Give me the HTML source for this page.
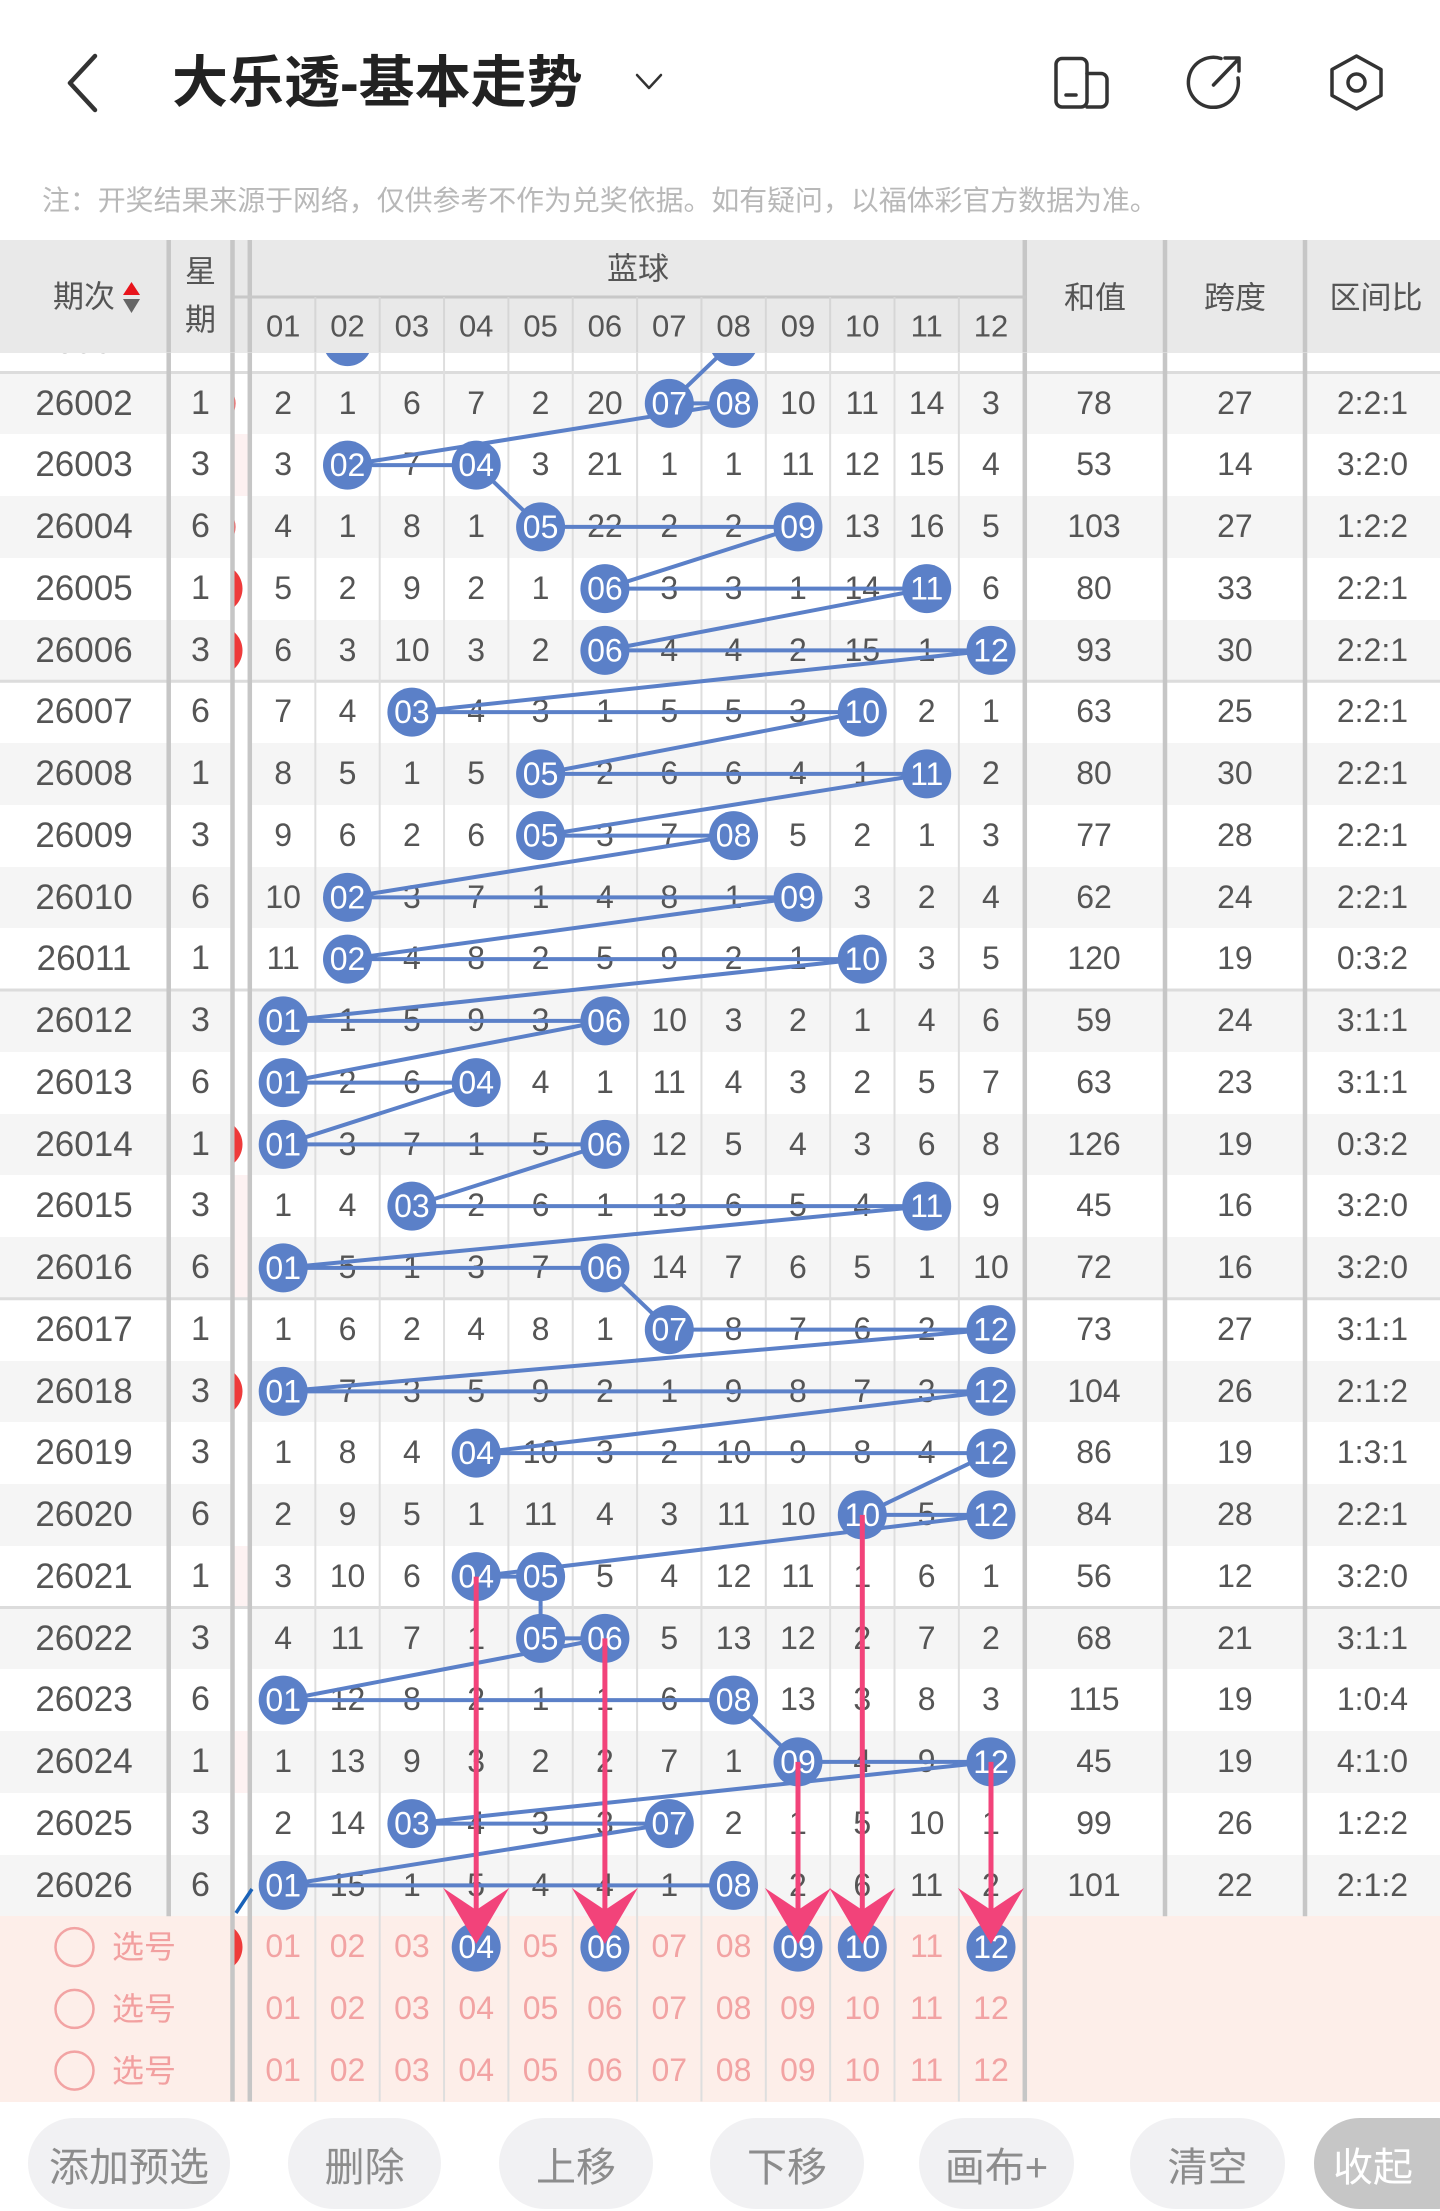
<!DOCTYPE html>
<html><head><meta charset="utf-8">
<style>
*{box-sizing:border-box}
body{margin:0;width:1440px;height:2211px;position:relative;overflow:hidden;background:#fff;font-family:"Liberation Sans","Noto Sans CJK SC",sans-serif;}
.r{position:absolute;left:0;width:1440px;height:61.75px;display:flex;color:#555;font-size:32px;line-height:61.75px;z-index:1;background:#fff}
.r.g{background:#f5f5f5}
.r.p{background:#fdeee9;color:#f2a3a3}
.r i{font-style:normal;display:block;text-align:center;flex:none;width:64.35px;white-space:nowrap}
.r i:nth-child(1){width:168px;font-size:35px}
.r i:nth-child(2){width:65px;font-size:34px}
.r i:nth-child(3){width:18px;background:#fff}
.r.p i:nth-child(3){background:transparent}
.r i:nth-child(16){width:141.8px}
.r i:nth-child(17){width:140px}
.r i:nth-child(18){width:135px}
.t{position:absolute;transform:translate(-50%,-50%);white-space:nowrap;line-height:1;z-index:4;color:#555;font-size:31px}
.ov{position:absolute;left:0;top:0}
.pill{position:absolute;top:2118px;height:91px;border-radius:45.5px;background:#f1f1f3;color:#8c8c8c;font-size:40px;display:flex;align-items:center;justify-content:center;white-space:nowrap}
.xh{position:absolute;left:112px;transform:translateY(-50%);font-size:32px;color:#f2a0a0;line-height:1;z-index:2}
</style></head><body>

<!-- top bar -->
<div style="position:absolute;left:172px;top:83px;transform:translateY(-50%);font-size:56px;font-weight:bold;color:#222;line-height:1;white-space:nowrap">大乐透-基本走势</div>
<div style="position:absolute;left:42px;top:201px;transform:translateY(-50%);font-size:27.9px;color:#b8b8b8;line-height:1;white-space:nowrap">注：开奖结果来源于网络，仅供参考不作为兑奖依据。如有疑问，以福体彩官方数据为准。</div>

<!-- table rows -->
<div class="r" style="top:310.75px"><i>26001</i><i>6</i><i></i><i>1</i><i></i><i>5</i><i>6</i><i>1</i><i>19</i><i>1</i><i></i><i>9</i><i>10</i><i>13</i><i>2</i><i>76</i><i>23</i><i>2:1:2</i></div>
<div class="r g" style="top:372.5px"><i>26002</i><i>1</i><i></i><i>2</i><i>1</i><i>6</i><i>7</i><i>2</i><i>20</i><i></i><i></i><i>10</i><i>11</i><i>14</i><i>3</i><i>78</i><i>27</i><i>2:2:1</i></div>
<div class="r" style="top:434.25px"><i>26003</i><i>3</i><i style="background:#fdf1f1"></i><i>3</i><i></i><i>7</i><i></i><i>3</i><i>21</i><i>1</i><i>1</i><i>11</i><i>12</i><i>15</i><i>4</i><i>53</i><i>14</i><i>3:2:0</i></div>
<div class="r g" style="top:496px"><i>26004</i><i>6</i><i></i><i>4</i><i>1</i><i>8</i><i>1</i><i></i><i>22</i><i>2</i><i>2</i><i></i><i>13</i><i>16</i><i>5</i><i>103</i><i>27</i><i>1:2:2</i></div>
<div class="r" style="top:557.75px"><i>26005</i><i>1</i><i></i><i>5</i><i>2</i><i>9</i><i>2</i><i>1</i><i></i><i>3</i><i>3</i><i>1</i><i>14</i><i></i><i>6</i><i>80</i><i>33</i><i>2:2:1</i></div>
<div class="r g" style="top:619.5px"><i>26006</i><i>3</i><i></i><i>6</i><i>3</i><i>10</i><i>3</i><i>2</i><i></i><i>4</i><i>4</i><i>2</i><i>15</i><i>1</i><i></i><i>93</i><i>30</i><i>2:2:1</i></div>
<div class="r" style="top:681.25px"><i>26007</i><i>6</i><i></i><i>7</i><i>4</i><i></i><i>4</i><i>3</i><i>1</i><i>5</i><i>5</i><i>3</i><i></i><i>2</i><i>1</i><i>63</i><i>25</i><i>2:2:1</i></div>
<div class="r g" style="top:743px"><i>26008</i><i>1</i><i></i><i>8</i><i>5</i><i>1</i><i>5</i><i></i><i>2</i><i>6</i><i>6</i><i>4</i><i>1</i><i></i><i>2</i><i>80</i><i>30</i><i>2:2:1</i></div>
<div class="r" style="top:804.75px"><i>26009</i><i>3</i><i></i><i>9</i><i>6</i><i>2</i><i>6</i><i></i><i>3</i><i>7</i><i></i><i>5</i><i>2</i><i>1</i><i>3</i><i>77</i><i>28</i><i>2:2:1</i></div>
<div class="r g" style="top:866.5px"><i>26010</i><i>6</i><i></i><i>10</i><i></i><i>3</i><i>7</i><i>1</i><i>4</i><i>8</i><i>1</i><i></i><i>3</i><i>2</i><i>4</i><i>62</i><i>24</i><i>2:2:1</i></div>
<div class="r" style="top:928.25px"><i>26011</i><i>1</i><i></i><i>11</i><i></i><i>4</i><i>8</i><i>2</i><i>5</i><i>9</i><i>2</i><i>1</i><i></i><i>3</i><i>5</i><i>120</i><i>19</i><i>0:3:2</i></div>
<div class="r g" style="top:990px"><i>26012</i><i>3</i><i></i><i></i><i>1</i><i>5</i><i>9</i><i>3</i><i></i><i>10</i><i>3</i><i>2</i><i>1</i><i>4</i><i>6</i><i>59</i><i>24</i><i>3:1:1</i></div>
<div class="r" style="top:1051.75px"><i>26013</i><i>6</i><i></i><i></i><i>2</i><i>6</i><i></i><i>4</i><i>1</i><i>11</i><i>4</i><i>3</i><i>2</i><i>5</i><i>7</i><i>63</i><i>23</i><i>3:1:1</i></div>
<div class="r g" style="top:1113.5px"><i>26014</i><i>1</i><i></i><i></i><i>3</i><i>7</i><i>1</i><i>5</i><i></i><i>12</i><i>5</i><i>4</i><i>3</i><i>6</i><i>8</i><i>126</i><i>19</i><i>0:3:2</i></div>
<div class="r" style="top:1175.25px"><i>26015</i><i>3</i><i style="background:#fdf2f2"></i><i>1</i><i>4</i><i></i><i>2</i><i>6</i><i>1</i><i>13</i><i>6</i><i>5</i><i>4</i><i></i><i>9</i><i>45</i><i>16</i><i>3:2:0</i></div>
<div class="r g" style="top:1237px"><i>26016</i><i>6</i><i style="background:#fdf2f2"></i><i></i><i>5</i><i>1</i><i>3</i><i>7</i><i></i><i>14</i><i>7</i><i>6</i><i>5</i><i>1</i><i>10</i><i>72</i><i>16</i><i>3:2:0</i></div>
<div class="r" style="top:1298.75px"><i>26017</i><i>1</i><i></i><i>1</i><i>6</i><i>2</i><i>4</i><i>8</i><i>1</i><i></i><i>8</i><i>7</i><i>6</i><i>2</i><i></i><i>73</i><i>27</i><i>3:1:1</i></div>
<div class="r g" style="top:1360.5px"><i>26018</i><i>3</i><i></i><i></i><i>7</i><i>3</i><i>5</i><i>9</i><i>2</i><i>1</i><i>9</i><i>8</i><i>7</i><i>3</i><i></i><i>104</i><i>26</i><i>2:1:2</i></div>
<div class="r" style="top:1422.25px"><i>26019</i><i>3</i><i></i><i>1</i><i>8</i><i>4</i><i></i><i>10</i><i>3</i><i>2</i><i>10</i><i>9</i><i>8</i><i>4</i><i></i><i>86</i><i>19</i><i>1:3:1</i></div>
<div class="r g" style="top:1484px"><i>26020</i><i>6</i><i></i><i>2</i><i>9</i><i>5</i><i>1</i><i>11</i><i>4</i><i>3</i><i>11</i><i>10</i><i></i><i>5</i><i></i><i>84</i><i>28</i><i>2:2:1</i></div>
<div class="r" style="top:1545.75px"><i>26021</i><i>1</i><i style="background:#fdf2f2"></i><i>3</i><i>10</i><i>6</i><i></i><i></i><i>5</i><i>4</i><i>12</i><i>11</i><i>1</i><i>6</i><i>1</i><i>56</i><i>12</i><i>3:2:0</i></div>
<div class="r g" style="top:1607.5px"><i>26022</i><i>3</i><i></i><i>4</i><i>11</i><i>7</i><i>1</i><i></i><i></i><i>5</i><i>13</i><i>12</i><i>2</i><i>7</i><i>2</i><i>68</i><i>21</i><i>3:1:1</i></div>
<div class="r" style="top:1669.25px"><i>26023</i><i>6</i><i></i><i></i><i>12</i><i>8</i><i>2</i><i>1</i><i>1</i><i>6</i><i></i><i>13</i><i>3</i><i>8</i><i>3</i><i>115</i><i>19</i><i>1:0:4</i></div>
<div class="r g" style="top:1731px"><i>26024</i><i>1</i><i style="background:#fdf2f2"></i><i>1</i><i>13</i><i>9</i><i>3</i><i>2</i><i>2</i><i>7</i><i>1</i><i></i><i>4</i><i>9</i><i></i><i>45</i><i>19</i><i>4:1:0</i></div>
<div class="r" style="top:1792.75px"><i>26025</i><i>3</i><i></i><i>2</i><i>14</i><i></i><i>4</i><i>3</i><i>3</i><i></i><i>2</i><i>1</i><i>5</i><i>10</i><i>1</i><i>99</i><i>26</i><i>1:2:2</i></div>
<div class="r g" style="top:1854.5px"><i>26026</i><i>6</i><i></i><i></i><i>15</i><i>1</i><i>5</i><i>4</i><i>4</i><i>1</i><i></i><i>2</i><i>6</i><i>11</i><i>2</i><i>101</i><i>22</i><i>2:1:2</i></div>
<div class="r p" style="top:1916.25px"><i></i><i></i><i></i><i>01</i><i>02</i><i>03</i><i>04</i><i>05</i><i>06</i><i>07</i><i>08</i><i>09</i><i>10</i><i>11</i><i>12</i><i></i><i></i><i></i></div>
<div class="r p" style="top:1978px"><i></i><i></i><i></i><i>01</i><i>02</i><i>03</i><i>04</i><i>05</i><i>06</i><i>07</i><i>08</i><i>09</i><i>10</i><i>11</i><i>12</i><i></i><i></i><i></i></div>
<div class="r p" style="top:2039.75px;height:61.75px"><i></i><i></i><i></i><i>01</i><i>02</i><i>03</i><i>04</i><i>05</i><i>06</i><i>07</i><i>08</i><i>09</i><i>10</i><i>11</i><i>12</i><i></i><i></i><i></i></div>

<div class="xh" style="top:1947.1px">选号</div>
<div class="xh" style="top:2008.9px">选号</div>
<div class="xh" style="top:2070.6px">选号</div>

<!-- body overlay -->
<svg class="ov" style="z-index:2" width="1440" height="2211">
<defs>
<clipPath id="cb"><rect x="0" y="352.5" width="1440" height="1860"/></clipPath>
<clipPath id="cn"><rect x="234.5" y="352.5" width="13" height="1860"/></clipPath>
</defs>
<g clip-path="url(#cb)">
<g stroke="#dcdcdc" stroke-width="3">
<line x1="0" y1="372.5" x2="1440" y2="372.5"/>
<line x1="0" y1="681.25" x2="1440" y2="681.25"/>
<line x1="0" y1="990" x2="1440" y2="990"/>
<line x1="0" y1="1298.75" x2="1440" y2="1298.75"/>
<line x1="0" y1="1607.5" x2="1440" y2="1607.5"/>
</g>
<g stroke="#dedede" stroke-width="2">
<line x1="315.35" y1="352" x2="315.35" y2="2101.5"/>
<line x1="379.7" y1="352" x2="379.7" y2="2101.5"/>
<line x1="444.05" y1="352" x2="444.05" y2="2101.5"/>
<line x1="508.4" y1="352" x2="508.4" y2="2101.5"/>
<line x1="572.75" y1="352" x2="572.75" y2="2101.5"/>
<line x1="637.1" y1="352" x2="637.1" y2="2101.5"/>
<line x1="701.45" y1="352" x2="701.45" y2="2101.5"/>
<line x1="765.8" y1="352" x2="765.8" y2="2101.5"/>
<line x1="830.15" y1="352" x2="830.15" y2="2101.5"/>
<line x1="894.5" y1="352" x2="894.5" y2="2101.5"/>
<line x1="958.85" y1="352" x2="958.85" y2="2101.5"/>
</g>
<g stroke="#c6c6c6" stroke-width="4.5">
<line x1="168.7" y1="352" x2="168.7" y2="1916.25"/>
<line x1="232.5" y1="352" x2="232.5" y2="2101.5"/>
<line x1="249.8" y1="352" x2="249.8" y2="2101.5"/>
<line x1="1024.8" y1="352" x2="1024.8" y2="2101.5"/>
<line x1="1165" y1="352" x2="1165" y2="1916.25"/>
<line x1="1305" y1="352" x2="1305" y2="1916.25"/>
</g>
<g clip-path="url(#cn)" fill="#ee3a3a">
<circle cx="211" cy="403.4" r="24.5"/>
<circle cx="211" cy="526.9" r="24.5"/>
<circle cx="218" cy="588.6" r="24.5"/>
<circle cx="218" cy="650.4" r="24.5"/>
<circle cx="218" cy="1144.4" r="24.5"/>
<circle cx="218" cy="1391.4" r="24.5"/>
<circle cx="218" cy="1947.1" r="24.5"/>
</g>
<line x1="236" y1="1913" x2="252" y2="1889" stroke="#1a62b8" stroke-width="3.5"/>
<polyline fill="none" stroke="#5b80c8" stroke-width="4" stroke-linejoin="round" points="347.5,341.6 733.6,341.6 669.3,403.4 733.6,403.4 347.5,465.1 476.2,465.1 540.6,526.9 798,526.9 604.9,588.6 926.7,588.6 604.9,650.4 991,650.4 411.9,712.1 862.3,712.1 540.6,773.9 926.7,773.9 540.6,835.6 733.6,835.6 347.5,897.4 798,897.4 347.5,959.1 862.3,959.1 283.2,1020.9 604.9,1020.9 283.2,1082.6 476.2,1082.6 283.2,1144.4 604.9,1144.4 411.9,1206.1 926.7,1206.1 283.2,1267.9 604.9,1267.9 669.3,1329.6 991,1329.6 283.2,1391.4 991,1391.4 476.2,1453.1 991,1453.1 862.3,1514.9 991,1514.9 476.2,1576.6 540.6,1576.6 540.6,1638.4 604.9,1638.4 283.2,1700.1 733.6,1700.1 798,1761.9 991,1761.9 411.9,1823.6 669.3,1823.6 283.2,1885.4 733.6,1885.4"/>
<g fill="#5b80c8">
<circle cx="347.5" cy="341.6" r="24.5"/><circle cx="733.6" cy="341.6" r="24.5"/>
<circle cx="669.3" cy="403.4" r="24.5"/><circle cx="733.6" cy="403.4" r="24.5"/>
<circle cx="347.5" cy="465.1" r="24.5"/><circle cx="476.2" cy="465.1" r="24.5"/>
<circle cx="540.6" cy="526.9" r="24.5"/><circle cx="798" cy="526.9" r="24.5"/>
<circle cx="604.9" cy="588.6" r="24.5"/><circle cx="926.7" cy="588.6" r="24.5"/>
<circle cx="604.9" cy="650.4" r="24.5"/><circle cx="991" cy="650.4" r="24.5"/>
<circle cx="411.9" cy="712.1" r="24.5"/><circle cx="862.3" cy="712.1" r="24.5"/>
<circle cx="540.6" cy="773.9" r="24.5"/><circle cx="926.7" cy="773.9" r="24.5"/>
<circle cx="540.6" cy="835.6" r="24.5"/><circle cx="733.6" cy="835.6" r="24.5"/>
<circle cx="347.5" cy="897.4" r="24.5"/><circle cx="798" cy="897.4" r="24.5"/>
<circle cx="347.5" cy="959.1" r="24.5"/><circle cx="862.3" cy="959.1" r="24.5"/>
<circle cx="283.2" cy="1020.9" r="24.5"/><circle cx="604.9" cy="1020.9" r="24.5"/>
<circle cx="283.2" cy="1082.6" r="24.5"/><circle cx="476.2" cy="1082.6" r="24.5"/>
<circle cx="283.2" cy="1144.4" r="24.5"/><circle cx="604.9" cy="1144.4" r="24.5"/>
<circle cx="411.9" cy="1206.1" r="24.5"/><circle cx="926.7" cy="1206.1" r="24.5"/>
<circle cx="283.2" cy="1267.9" r="24.5"/><circle cx="604.9" cy="1267.9" r="24.5"/>
<circle cx="669.3" cy="1329.6" r="24.5"/><circle cx="991" cy="1329.6" r="24.5"/>
<circle cx="283.2" cy="1391.4" r="24.5"/><circle cx="991" cy="1391.4" r="24.5"/>
<circle cx="476.2" cy="1453.1" r="24.5"/><circle cx="991" cy="1453.1" r="24.5"/>
<circle cx="862.3" cy="1514.9" r="24.5"/><circle cx="991" cy="1514.9" r="24.5"/>
<circle cx="476.2" cy="1576.6" r="24.5"/><circle cx="540.6" cy="1576.6" r="24.5"/>
<circle cx="540.6" cy="1638.4" r="24.5"/><circle cx="604.9" cy="1638.4" r="24.5"/>
<circle cx="283.2" cy="1700.1" r="24.5"/><circle cx="733.6" cy="1700.1" r="24.5"/>
<circle cx="798" cy="1761.9" r="24.5"/><circle cx="991" cy="1761.9" r="24.5"/>
<circle cx="411.9" cy="1823.6" r="24.5"/><circle cx="669.3" cy="1823.6" r="24.5"/>
<circle cx="283.2" cy="1885.4" r="24.5"/><circle cx="733.6" cy="1885.4" r="24.5"/>
<circle cx="476.2" cy="1947.1" r="24.5"/><circle cx="604.9" cy="1947.1" r="24.5"/><circle cx="798" cy="1947.1" r="24.5"/><circle cx="862.3" cy="1947.1" r="24.5"/><circle cx="991" cy="1947.1" r="24.5"/>
</g>
<g fill="#fff" font-size="32" text-anchor="middle" dominant-baseline="central" font-family="Liberation Sans, sans-serif">
<text x="347.5" y="341.6">02</text><text x="733.6" y="341.6">08</text>
<text x="669.3" y="403.4">07</text><text x="733.6" y="403.4">08</text>
<text x="347.5" y="465.1">02</text><text x="476.2" y="465.1">04</text>
<text x="540.6" y="526.9">05</text><text x="798" y="526.9">09</text>
<text x="604.9" y="588.6">06</text><text x="926.7" y="588.6">11</text>
<text x="604.9" y="650.4">06</text><text x="991" y="650.4">12</text>
<text x="411.9" y="712.1">03</text><text x="862.3" y="712.1">10</text>
<text x="540.6" y="773.9">05</text><text x="926.7" y="773.9">11</text>
<text x="540.6" y="835.6">05</text><text x="733.6" y="835.6">08</text>
<text x="347.5" y="897.4">02</text><text x="798" y="897.4">09</text>
<text x="347.5" y="959.1">02</text><text x="862.3" y="959.1">10</text>
<text x="283.2" y="1020.9">01</text><text x="604.9" y="1020.9">06</text>
<text x="283.2" y="1082.6">01</text><text x="476.2" y="1082.6">04</text>
<text x="283.2" y="1144.4">01</text><text x="604.9" y="1144.4">06</text>
<text x="411.9" y="1206.1">03</text><text x="926.7" y="1206.1">11</text>
<text x="283.2" y="1267.9">01</text><text x="604.9" y="1267.9">06</text>
<text x="669.3" y="1329.6">07</text><text x="991" y="1329.6">12</text>
<text x="283.2" y="1391.4">01</text><text x="991" y="1391.4">12</text>
<text x="476.2" y="1453.1">04</text><text x="991" y="1453.1">12</text>
<text x="862.3" y="1514.9">10</text><text x="991" y="1514.9">12</text>
<text x="476.2" y="1576.6">04</text><text x="540.6" y="1576.6">05</text>
<text x="540.6" y="1638.4">05</text><text x="604.9" y="1638.4">06</text>
<text x="283.2" y="1700.1">01</text><text x="733.6" y="1700.1">08</text>
<text x="798" y="1761.9">09</text><text x="991" y="1761.9">12</text>
<text x="411.9" y="1823.6">03</text><text x="669.3" y="1823.6">07</text>
<text x="283.2" y="1885.4">01</text><text x="733.6" y="1885.4">08</text>
<text x="476.2" y="1947.1">04</text><text x="604.9" y="1947.1">06</text><text x="798" y="1947.1">09</text><text x="862.3" y="1947.1">10</text><text x="991" y="1947.1">12</text>
</g>
<g stroke="#f2437a" stroke-width="5">
<line x1="476.2" y1="1576.6" x2="476.2" y2="1930"/>
<line x1="604.9" y1="1638.4" x2="604.9" y2="1930"/>
<line x1="798" y1="1761.9" x2="798" y2="1930"/>
<line x1="862.3" y1="1514.9" x2="862.3" y2="1930"/>
<line x1="991" y1="1761.9" x2="991" y2="1930"/>
</g>
<g fill="#f2437a">
<polygon points="476.2,1944 509.2,1888 476.2,1910 443.2,1888"/>
<polygon points="604.9,1944 637.9,1888 604.9,1910 571.9,1888"/>
<polygon points="798,1944 831,1888 798,1910 765,1888"/>
<polygon points="862.3,1944 895.3,1888 862.3,1910 829.3,1888"/>
<polygon points="991,1944 1024,1888 991,1910 958,1888"/>
</g>
<g fill="none" stroke="#f2a3a3" stroke-width="2.5">
<circle cx="74.5" cy="1947.1" r="19"/>
<circle cx="74.5" cy="2008.9" r="19"/>
<circle cx="74.5" cy="2070.6" r="19"/>
</g>
</g>
</svg>

<!-- header -->
<div style="position:absolute;left:0;top:240px;width:1440px;height:112.5px;background:#e9e9e9;z-index:3"></div>
<svg class="ov" style="z-index:4" width="1440" height="360">
<g stroke="#c6c6c6" stroke-width="4.5">
<line x1="168.7" y1="240" x2="168.7" y2="352.5"/>
<line x1="232.5" y1="240" x2="232.5" y2="352.5"/>
<line x1="249.8" y1="240" x2="249.8" y2="352.5"/>
<line x1="1024.8" y1="240" x2="1024.8" y2="352.5"/>
<line x1="1165" y1="240" x2="1165" y2="352.5"/>
<line x1="1305" y1="240" x2="1305" y2="352.5"/>
</g>
<line x1="233" y1="297" x2="1026" y2="297" stroke="#c8c8c8" stroke-width="3"/>
<g stroke="#d6d6d6" stroke-width="2">
<line x1="315.35" y1="297" x2="315.35" y2="352.5"/>
<line x1="379.7" y1="297" x2="379.7" y2="352.5"/>
<line x1="444.05" y1="297" x2="444.05" y2="352.5"/>
<line x1="508.4" y1="297" x2="508.4" y2="352.5"/>
<line x1="572.75" y1="297" x2="572.75" y2="352.5"/>
<line x1="637.1" y1="297" x2="637.1" y2="352.5"/>
<line x1="701.45" y1="297" x2="701.45" y2="352.5"/>
<line x1="765.8" y1="297" x2="765.8" y2="352.5"/>
<line x1="830.15" y1="297" x2="830.15" y2="352.5"/>
<line x1="894.5" y1="297" x2="894.5" y2="352.5"/>
<line x1="958.85" y1="297" x2="958.85" y2="352.5"/>
</g>
<polygon points="123,295 140,295 131.5,282" fill="#e8141c"/>
<polygon points="123,299 140,299 131.5,313" fill="#666"/>
<!-- top icons -->
<polyline points="95,56 70,83 95,110" fill="none" stroke="#333" stroke-width="4.5" stroke-linecap="round" stroke-linejoin="round"/>
<polyline points="637,75 649,88 661,75" fill="none" stroke="#333" stroke-width="2.5" stroke-linecap="round" stroke-linejoin="round"/>
<g fill="none" stroke="#333" stroke-width="3.5" stroke-linecap="round" stroke-linejoin="round">
<rect x="1056" y="58.5" width="31" height="48.5" rx="6"/>
<path d="M1087,73.5 H1101 A6,6 0 0 1 1107,79.5 V101 A6,6 0 0 1 1101,107 H1087"/>
<line x1="1066" y1="95" x2="1076" y2="95"/>
<path d="M1221,58.5 A25,25 0 1 0 1238,78"/>
<path d="M1213.5,85 L1238,59.5 M1225,58 H1239 V71"/>
<polygon points="1356.5,56 1381,69.5 1381,95.5 1356.5,109 1332,95.5 1332,69.5"/>
<circle cx="1356.5" cy="82.5" r="8.5"/>
</g>
</svg>

<div class="t" style="left:84px;top:297px">期次</div>
<div class="t" style="left:200.5px;top:272px">星</div>
<div class="t" style="left:200.5px;top:320px">期</div>
<div class="t" style="left:638px;top:269px">蓝球</div>
<div class="t" style="left:283.2px;top:326px">01</div>
<div class="t" style="left:347.5px;top:326px">02</div>
<div class="t" style="left:411.9px;top:326px">03</div>
<div class="t" style="left:476.2px;top:326px">04</div>
<div class="t" style="left:540.6px;top:326px">05</div>
<div class="t" style="left:604.9px;top:326px">06</div>
<div class="t" style="left:669.3px;top:326px">07</div>
<div class="t" style="left:733.6px;top:326px">08</div>
<div class="t" style="left:798px;top:326px">09</div>
<div class="t" style="left:862.3px;top:326px">10</div>
<div class="t" style="left:926.7px;top:326px">11</div>
<div class="t" style="left:991px;top:326px">12</div>
<div class="t" style="left:1095px;top:298px">和值</div>
<div class="t" style="left:1235px;top:298px">跨度</div>
<div class="t" style="left:1376px;top:298px">区间比</div>

<!-- bottom buttons -->
<div class="pill" style="left:28px;width:202px">添加预选</div>
<div class="pill" style="left:288px;width:153px">删除</div>
<div class="pill" style="left:499px;width:154px">上移</div>
<div class="pill" style="left:710px;width:154px">下移</div>
<div class="pill" style="left:919px;width:155px">画布+</div>
<div class="pill" style="left:1130px;width:155px">清空</div>
<div class="pill" style="left:1314px;width:170px;background:#c6c6c6;color:#fff;justify-content:flex-start;padding-left:19px">收起</div>

</body></html>
